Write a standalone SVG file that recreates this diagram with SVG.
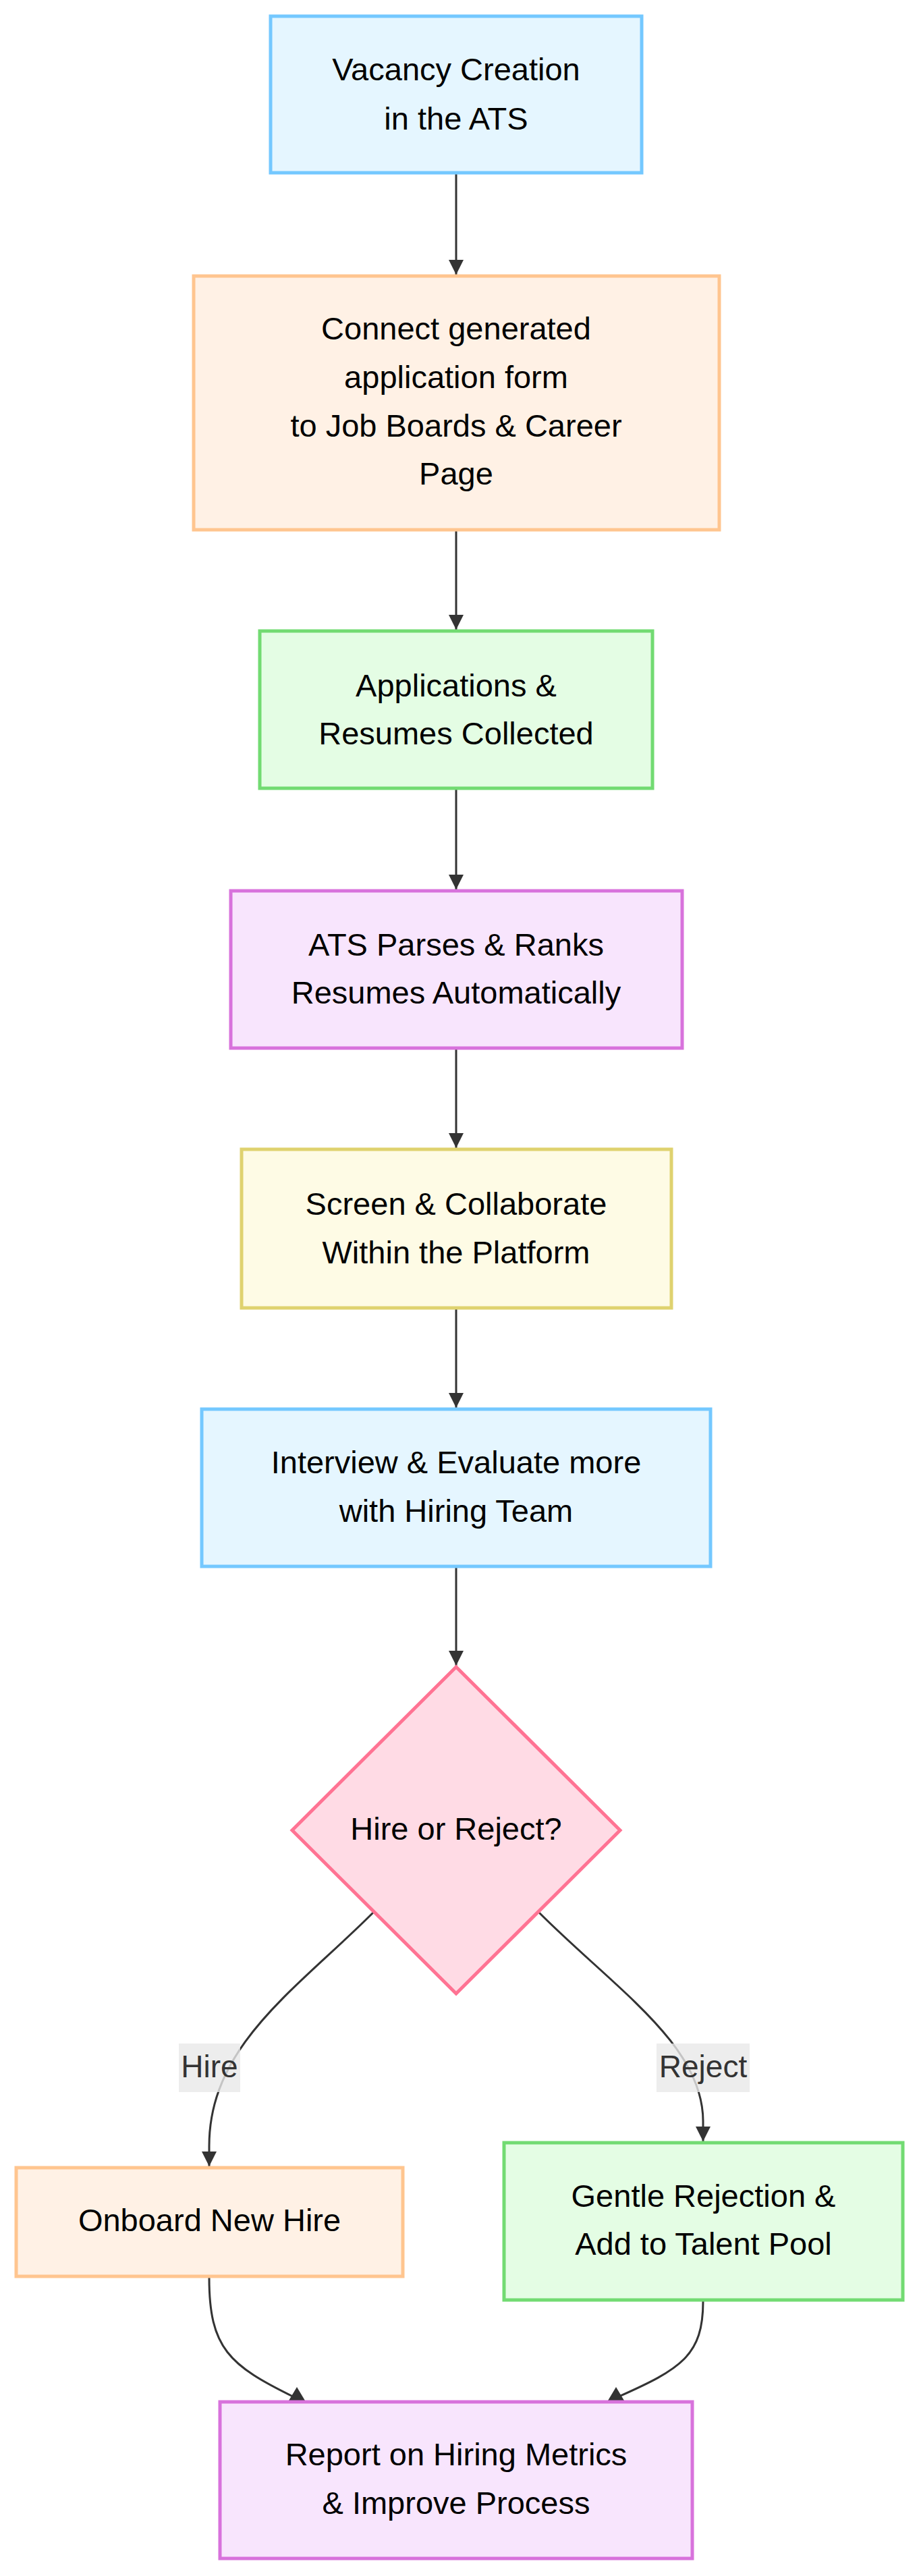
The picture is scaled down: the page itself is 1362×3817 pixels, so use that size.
<svg xmlns="http://www.w3.org/2000/svg" width="1362" height="3817" viewBox="0 0 1362 3817">
<style>
.t{font-family:"Liberation Sans",Arial,sans-serif;font-size:47px;fill:#000;text-anchor:middle}
.lt{font-family:"Liberation Sans",Arial,sans-serif;font-size:46px;fill:#333;text-anchor:middle}
.n{stroke-width:5}
.blue{fill:#e5f6ff;stroke:#74c8ff}
.orange{fill:#fff1e5;stroke:#ffc58f}
.green{fill:#e4fde4;stroke:#72db72}
.purple{fill:#f8e5fd;stroke:#d872dc}
.yellow{fill:#fefbe5;stroke:#dfd26f}
.pink{fill:#ffdbe5;stroke:#ff7393}
.e{fill:none;stroke:#333;stroke-width:3}
.lb{fill:rgba(232,232,232,0.8)}
.ah{fill:#333}
</style>
<defs>
<marker id="arr" markerUnits="userSpaceOnUse" viewBox="0 0 10 10" refX="10" refY="5" markerWidth="22" markerHeight="24" orient="auto">
<path d="M0,0 L10,5 L0,10 z" fill="#333"/>
</marker>
</defs>
<rect width="1362" height="3817" fill="#fff"/>
<g id="connectors">
<path class="e" d="M676,258 L676,407" marker-end="url(#arr)"/>
<path class="e" d="M676,787 L676,933" marker-end="url(#arr)"/>
<path class="e" d="M676,1170 L676,1318" marker-end="url(#arr)"/>
<path class="e" d="M676,1555 L676,1701" marker-end="url(#arr)"/>
<path class="e" d="M676,1940 L676,2086" marker-end="url(#arr)"/>
<path class="e" d="M676,2323 L676,2468" marker-end="url(#arr)"/>
<path class="e" d="M553,2834 C440,2947 310,3030 310,3180 L310,3210" marker-end="url(#arr)"/>
<path class="e" d="M799,2834 C912,2947 1042,3030 1042,3143 L1042,3173" marker-end="url(#arr)"/>
<path class="e" d="M310,3375 C310,3480 340,3505 436,3552"/>
<polygon class="ah" points="428,3557 452,3557 440,3537"/>
<path class="e" d="M1042,3410 C1042,3490 1010,3510 915,3552"/>
<polygon class="ah" points="901,3557 925,3557 913,3537"/>
<g id="label-hire"><rect class="lb" x="265" y="3028" width="91" height="72"/><text class="lt" x="310.5" y="3078">Hire</text></g>
<g id="label-reject"><rect class="lb" x="973" y="3028" width="138" height="72"/><text class="lt" x="1042" y="3078">Reject</text></g>
</g>
<g id="vacancy"><rect class="n blue" x="401" y="24" width="550" height="232"/><text class="t" x="676" y="119">Vacancy Creation</text><text class="t" x="676" y="192">in the ATS</text></g>
<g id="connect"><rect class="n orange" x="287" y="409" width="779" height="376"/><text class="t" x="676" y="503">Connect generated</text><text class="t" x="676" y="575">application form</text><text class="t" x="676" y="647">to Job Boards &amp; Career</text><text class="t" x="676" y="718">Page</text></g>
<g id="applications"><rect class="n green" x="385" y="935" width="582" height="233"/><text class="t" x="676" y="1032">Applications &amp;</text><text class="t" x="676" y="1103">Resumes Collected</text></g>
<g id="parses"><rect class="n purple" x="342" y="1320" width="669" height="233"/><text class="t" x="676" y="1416">ATS Parses &amp; Ranks</text><text class="t" x="676" y="1487">Resumes Automatically</text></g>
<g id="screen"><rect class="n yellow" x="358" y="1703" width="637" height="235"/><text class="t" x="676" y="1800">Screen &amp; Collaborate</text><text class="t" x="676" y="1872">Within the Platform</text></g>
<g id="interview"><rect class="n blue" x="299" y="2088" width="754" height="233"/><text class="t" x="676" y="2183">Interview &amp; Evaluate more</text><text class="t" x="676" y="2255">with Hiring Team</text></g>
<g id="decision"><polygon class="n pink" points="676,2470 919,2712 676,2954 433,2712"/><text class="t" x="676" y="2726">Hire or Reject?</text></g>
<g id="onboard"><rect class="n orange" x="24" y="3212" width="573" height="161"/><text class="t" x="310.5" y="3306">Onboard New Hire</text></g>
<g id="gentle"><rect class="n green" x="747" y="3175" width="591" height="233"/><text class="t" x="1042.5" y="3270">Gentle Rejection &amp;</text><text class="t" x="1042.5" y="3341">Add to Talent Pool</text></g>
<g id="report"><rect class="n purple" x="326" y="3559" width="700" height="232"/><text class="t" x="676" y="3653">Report on Hiring Metrics</text><text class="t" x="676" y="3725">&amp; Improve Process</text></g>
</svg>
